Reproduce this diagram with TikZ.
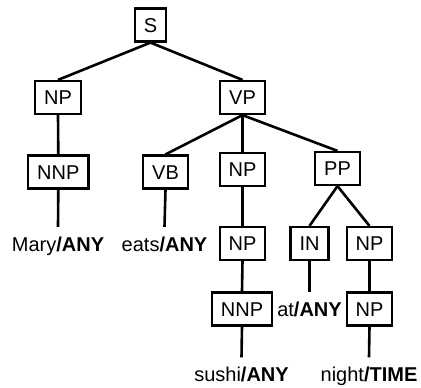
\documentclass[tikz,border=0pt]{standalone}
\usepackage{fontspec}
\setmainfont{Liberation Sans}
\begin{document}
\begin{tikzpicture}[x=1pt,y=-1pt,
  cat/.style={draw,line width=2.2pt,inner xsep=9pt,inner ysep=0pt,
    minimum height=33pt,font=\fontsize{20}{24}\selectfont,
    text height=14.3pt,text depth=0pt},
  leaf/.style={anchor=base,inner xsep=0pt,inner ysep=10pt,
    font=\fontsize{20}{24}\selectfont,text height=14pt,text depth=4pt},
  edge/.style={line width=2.6pt}]
\useasboundingbox (0,0) rectangle (421,388);

% phrase and tag nodes
\node[cat] (s)    at (150.5,25)  {S};
\node[cat] (np1)  at (58,97.5)   {NP};
\node[cat] (vp)   at (242.5,97.5){VP};
\node[cat] (nnp1) at (58.3,172)  {NNP};
\node[cat] (vb)   at (165.5,172) {VB};
\node[cat] (np2)  at (242.5,169.5){NP};
\node[cat] (pp)   at (337.5,168.5){PP};
\node[cat] (np3)  at (242.5,243.5){NP};
\node[cat] (in)   at (309.5,243.5){IN};
\node[cat] (np4)  at (369.5,243.5){NP};
\node[cat] (nnp2) at (242,309)   {NNP};
\node[cat] (np5)  at (369.5,309) {NP};

% words with their classes
\node[leaf] (w1) at (58,251)    {Mary\textbf{/ANY}};
\node[leaf] (w2) at (164.5,251) {eats\textbf{/ANY}};
\node[leaf] (w3) at (309.5,316.5) {at\textbf{/ANY}};
\node[leaf] (w4) at (241.5,381.5) {sushi\textbf{/ANY}};
\node[leaf] (w5) at (369,381.5)   {night\textbf{/TIME}};

% tree edges
\draw[edge] (s.south) -- (np1.north);
\draw[edge] (s.south) -- (vp.north);
\draw[edge] (np1.south) -- (nnp1.north);
\draw[edge] (vp.south) -- (vb.north);
\draw[edge] (vp.south) -- (np2.north);
\draw[edge] (vp.south) -- (pp.north);
\draw[edge] (np2.south) -- (np3.north);
\draw[edge] (pp.south) -- (in.north);
\draw[edge] (pp.south) -- (np4.north);
\draw[edge] (np3.south) -- (nnp2.north);
\draw[edge] (np4.south) -- (np5.north);

% edges down to the words
\draw[edge] (nnp1.south) -- (w1.north);
\draw[edge] (vb.south) -- (w2.north);
\draw[edge] (in.south) -- (w3.north);
\draw[edge] (nnp2.south) -- (w4.north);
\draw[edge] (np5.south) -- (w5.north);
\end{tikzpicture}
\end{document}
